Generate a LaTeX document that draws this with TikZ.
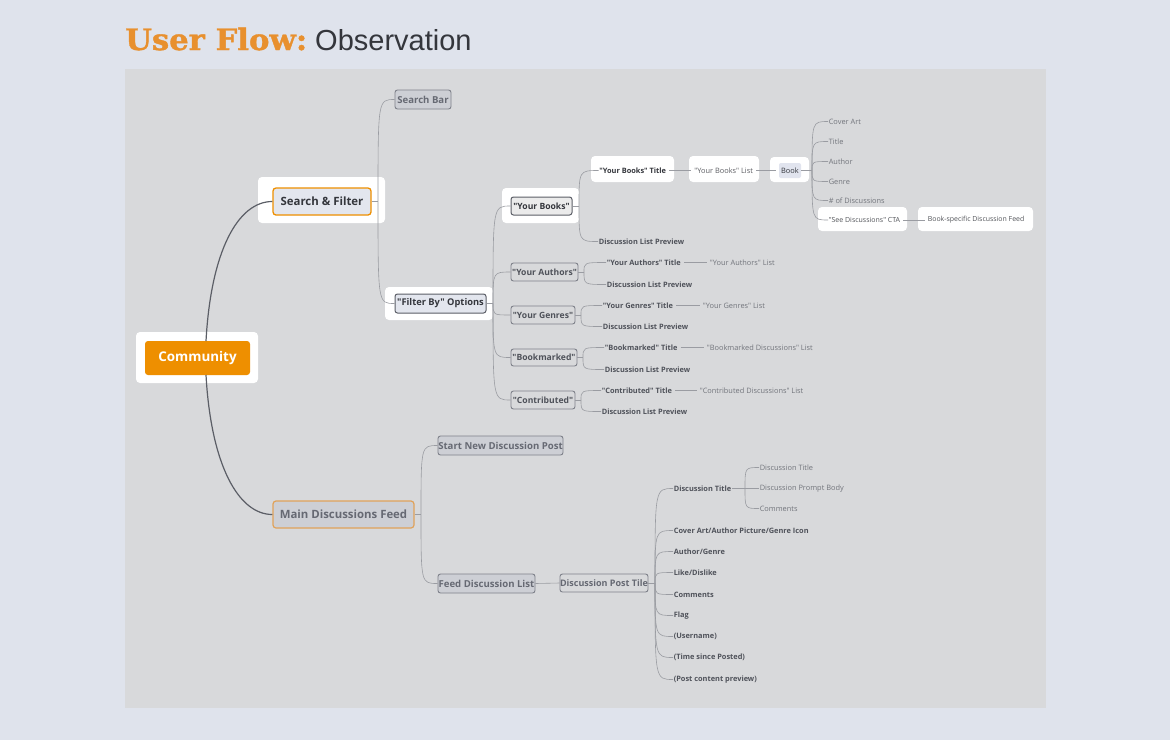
\documentclass[tikz,border=0pt]{standalone}
\usepackage{fontspec}
\setmainfont{Open Sans}[Ligatures=TeXOff]
\newfontfamily\slabfont{DejaVu Serif}[FakeStretch=1.04,FakeBold=1.2]
\newfontfamily\helv{Liberation Sans}
\definecolor{outerbg}{HTML}{DFE3EC}
\definecolor{panel}{HTML}{D8D9DB}
\definecolor{orangeA}{HTML}{EE8F00}
\definecolor{orangeT}{HTML}{E8902E}
\definecolor{darktxt}{HTML}{34363C}
\definecolor{boldtxt}{HTML}{4F525A}
\definecolor{lighttxt}{HTML}{72757C}
\definecolor{graytxt}{HTML}{666973}
\definecolor{grayfill}{HTML}{CDCFD5}
\definecolor{grayline}{HTML}{7E818A}
\definecolor{connc}{HTML}{9A9CA2}
\definecolor{trunkc}{HTML}{5B5E66}
\definecolor{lightbox}{HTML}{E3E6EE}
\definecolor{bookfill}{HTML}{E1E4EE}
\definecolor{mdfline}{HTML}{E0A25A}
\begin{document}
\begin{tikzpicture}[x=1pt,y=-1pt,
  sz/.style 2 args={minimum width=#1,minimum height=#2,inner sep=0pt},
  halo/.style={fill=white,rounded corners=4pt,draw=none},
  graybox/.style={fill=grayfill,draw=grayline,line width=0.9pt,rounded corners=2.5pt,text=graytxt,font=\fontsize{9.6}{11}\selectfont\bfseries},
  outbox/.style={fill=panel,draw=grayline,line width=0.9pt,rounded corners=2.5pt,text=boldtxt,font=\fontsize{8.6}{10}\selectfont\bfseries},
  bl/.style={anchor=west,inner sep=0.6pt,text=boldtxt,font=\fontsize{7.4}{9}\selectfont\bfseries},
  rl/.style={anchor=west,inner sep=0.6pt,text=lighttxt,font=\fontsize{7.4}{9}\selectfont},
  conn/.style={draw=connc,line width=0.6pt},
  link/.style={draw=connc,line width=0.6pt,shorten <=2.5pt,shorten >=2.5pt},
  trunk/.style={draw=trunkc,line width=1.2pt}]
\useasboundingbox (0,0) rectangle (1170,740);
\fill[outerbg] (0,0) rectangle (1170,740);
\fill[panel] (125,69) rectangle (1046,708);
% title
\node[anchor=base west,inner sep=0pt,text=orangeT,font=\slabfont\bfseries\fontsize{29.5}{30}\selectfont] (t1) at (125,50) {User Flow:};
\node[anchor=base west,inner sep=0pt,text=darktxt,font=\helv\fontsize{29}{30}\selectfont] (t2) at (315,50) {Observation};
% halos
\node[halo,sz={122}{51}] (comh) at (197,357.5) {};
\node[halo,sz={127}{46}] (sfh) at (321.5,200) {};
\node[halo,sz={108}{33}] (fbh) at (439,303.5) {};
\node[halo,sz={77}{35}] (ybh) at (540.5,205.5) {};
\node[halo,sz={83}{26}] (ybth) at (632.5,169) {};
\node[halo,sz={70}{26}] (yblh) at (724,169) {};
\node[halo,sz={39}{25}] (bookh) at (789.5,169.5) {};
\node[halo,sz={89}{24}] (ctah) at (862.5,219) {};
\node[halo,sz={115}{24}] (bsfh) at (975.5,219) {};
% main boxes
\node[sz={105}{34},fill=orangeA,rounded corners=3pt,text=white,font=\fontsize{13.4}{15}\selectfont\bfseries] (com) at (197.5,358) {Community};
\node[sz={98}{27},fill=lightbox,draw=orangeA,line width=1.3pt,rounded corners=3pt,text=darktxt,font=\fontsize{11.4}{13}\selectfont\bfseries] (sf) at (322,201.5) {Search \& Filter};
\node[graybox,sz={56}{19}] (sb) at (423,99.5) {Search Bar};
\node[sz={91}{19},fill=lightbox,draw=trunkc,line width=1pt,rounded corners=2.5pt,text=darktxt,font=\fontsize{9.3}{11}\selectfont\bfseries] (fb) at (440.5,303.5) {"Filter By" Options};
\node[sz={61}{18},fill=white!92!black,draw=trunkc,line width=1pt,rounded corners=2.5pt,text=darktxt,font=\fontsize{8.6}{10}\selectfont\bfseries] (yb) at (541.5,206) {"Your Books"};
\node[outbox,sz={67}{18}] (ya) at (544.5,272) {"Your Authors"};
\node[outbox,sz={64}{18}] (yg) at (543,315) {"Your Genres"};
\node[outbox,sz={66}{17}] (bm) at (544,357.5) {"Bookmarked"};
\node[outbox,sz={64}{18}] (ct) at (543,400) {"Contributed"};
\node[sz={141}{27},fill=grayfill,draw=mdfline,line width=1.2pt,rounded corners=3pt,text=graytxt,font=\fontsize{11.4}{13}\selectfont\bfseries] (mdf) at (343.5,514.5) {Main Discussions Feed};
\node[graybox,sz={125}{19}] (snd) at (500.5,445.5) {Start New Discussion Post};
\node[graybox,sz={97}{19}] (fdl) at (486.5,583.5) {Feed Discussion List};
\node[outbox,sz={88}{18},text=graytxt,font=\fontsize{9}{11}\selectfont\bfseries] (dpt) at (604,583) {Discussion Post Tile};
\node[sz={22}{15},fill=bookfill,rounded corners=2pt,text=darktxt,font=\fontsize{7.4}{9}\selectfont] (book) at (790,170.5) {Book};
% labels
\node[bl,text=darktxt] (ybt) at (598.5,170.5) {"Your Books" Title};
\node[rl,text=darktxt!80] (ybl) at (693.5,170.5) {"Your Books" List};
\node[rl] (b1) at (828,121.5) {Cover Art};
\node[rl] (b2) at (828,141.5) {Title};
\node[rl] (b3) at (828,161.5) {Author};
\node[rl] (b4) at (828,181.5) {Genre};
\node[rl] (b5) at (828,200.5) {\# of Discussions};
\node[rl,text=darktxt!85,font=\fontsize{7}{9}\selectfont] (cta) at (828,220) {"See Discussions" CTA};
\node[rl,text=darktxt!85,font=\fontsize{6.95}{9}\selectfont] (bsf) at (927,220) {Book-specific Discussion Feed};
\node[bl] (ybd) at (598,241.5) {Discussion List Preview};
\node[bl] (yat) at (606,262.5) {"Your Authors" Title};
\node[rl] (yal) at (709,262.5) {"Your Authors" List};
\node[bl] (yad) at (606,284.5) {Discussion List Preview};
\node[bl] (ygt) at (602,305.5) {"Your Genres" Title};
\node[rl] (ygl) at (702,305.5) {"Your Genres" List};
\node[bl] (ygd) at (602,326.5) {Discussion List Preview};
\node[bl] (bmt) at (604,347.5) {"Bookmarked" Title};
\node[rl] (bml) at (706,347.5) {"Bookmarked Discussions" List};
\node[bl] (bmd) at (604,369.5) {Discussion List Preview};
\node[bl] (ctt) at (601,390.5) {"Contributed" Title};
\node[rl] (ctl) at (699,390.5) {"Contributed Discussions" List};
\node[bl] (ctd) at (601,411.5) {Discussion List Preview};
\node[bl] (dt) at (673,488.5) {Discussion Title};
\node[rl] (d1) at (759,467.5) {Discussion Title};
\node[rl] (d2) at (759,488.5) {Discussion Prompt Body};
\node[rl] (d3) at (759,508.5) {Comments};
\node[bl] (c1) at (673,530.5) {Cover Art/Author Picture/Genre Icon};
\node[bl] (c2) at (673,551.5) {Author/Genre};
\node[bl] (c3) at (673,572.5) {Like/Dislike};
\node[bl] (c4) at (673,594.5) {Comments};
\node[bl] (c5) at (673,615.5) {Flag};
\node[bl] (c6) at (673,636.5) {(Username)};
\node[bl] (c7) at (673,657.5) {(Time since Posted)};
\node[bl] (c8) at (673,679.5) {(Post content preview)};
% trunk connectors
\coordinate (cjt) at (206,341);
\coordinate (cjb) at (206,375);
\draw[trunk] (cjt) .. controls ([xshift=5pt]cjt |- 0,250) and ([xshift=-34pt]sf.west) .. (sf.west);
\draw[trunk] (cjb) .. controls ([xshift=5pt]cjb |- 0,465) and ([xshift=-34pt]mdf.west) .. (mdf.west);
% junctions
\coordinate (jsf) at (378,201.5);
\coordinate (jfb) at (493,303.5);
\coordinate (jyb) at (579,206);
\coordinate (jbk) at (812,170.5);
\coordinate (jya) at (584,272);
\coordinate (jyg) at (581,315);
\coordinate (jbm) at (583,357.5);
\coordinate (jct) at (581,400);
\coordinate (jmdf) at (421,514.5);
\coordinate (jdpt) at (655,583);
\coordinate (jdt) at (745,488.5);
\draw[conn] (sf.east) -- (jsf);
\foreach \c in {sb,fb} \draw[conn] (jsf) .. controls (jsf |- \c.west) .. (\c.west);
\draw[conn] (fb.east) -- (jfb);
\foreach \c in {yb,ya,yg,bm,ct} \draw[conn] (jfb) .. controls (jfb |- \c.west) .. (\c.west);
\draw[conn] (yb.east) -- (jyb);
\foreach \c in {ybt,ybd} \draw[conn] (jyb) .. controls (jyb |- \c.west) .. (\c.west);
\draw[link] (ybt.east) -- (ybl.west);
\draw[link] (ybl.east) -- (book.west);
\draw[conn] (book.east) -- (jbk);
\foreach \c in {b1,b2,b3,b4,b5,cta} \draw[conn] (jbk) .. controls (jbk |- \c.west) .. (\c.west);
\draw[link] (cta.east) -- (bsf.west);
\draw[conn] (ya.east) -- (jya);
\foreach \c in {yat,yad} \draw[conn] (jya) .. controls (jya |- \c.west) .. (\c.west);
\draw[link] (yat.east) -- (yal.west);
\draw[conn] (yg.east) -- (jyg);
\foreach \c in {ygt,ygd} \draw[conn] (jyg) .. controls (jyg |- \c.west) .. (\c.west);
\draw[link] (ygt.east) -- (ygl.west);
\draw[conn] (bm.east) -- (jbm);
\foreach \c in {bmt,bmd} \draw[conn] (jbm) .. controls (jbm |- \c.west) .. (\c.west);
\draw[link] (bmt.east) -- (bml.west);
\draw[conn] (ct.east) -- (jct);
\foreach \c in {ctt,ctd} \draw[conn] (jct) .. controls (jct |- \c.west) .. (\c.west);
\draw[link] (ctt.east) -- (ctl.west);
\draw[conn] (mdf.east) -- (jmdf);
\foreach \c in {snd,fdl} \draw[conn] (jmdf) .. controls (jmdf |- \c.west) .. (\c.west);
\draw[conn] (fdl.east) -- (dpt.west);
\draw[conn] (dpt.east) -- (jdpt);
\foreach \c in {dt,c1,c2,c3,c4,c5,c6,c7,c8} \draw[conn] (jdpt) .. controls (jdpt |- \c.west) .. (\c.west);
\draw[conn] (dt.east) -- (jdt);
\foreach \c in {d1,d2,d3} \draw[conn] (jdt) .. controls (jdt |- \c.west) .. (\c.west);
\end{tikzpicture}
\end{document}
